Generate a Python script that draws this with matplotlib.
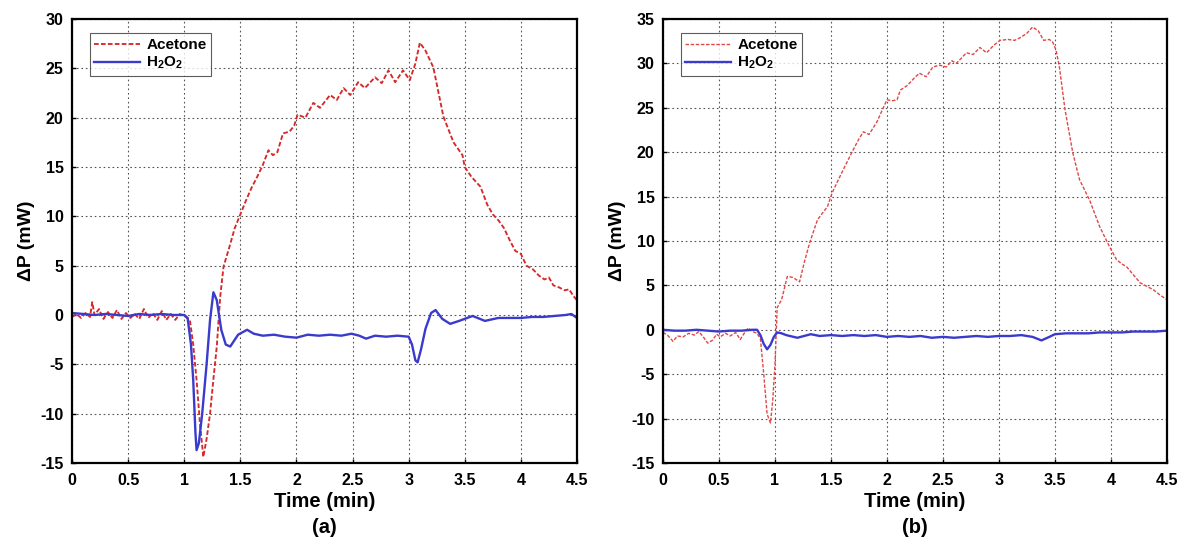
import matplotlib
matplotlib.use("Agg")
import matplotlib.pyplot as plt

plt.rcParams['font.family'] = ['Liberation Sans', 'DejaVu Sans']
plt.rcParams['font.weight'] = 'bold'
plt.rcParams['axes.unicode_minus'] = False
plt.rcParams['mathtext.fontset'] = 'custom'
plt.rcParams['mathtext.rm'] = 'Liberation Sans:bold'
plt.rcParams['mathtext.it'] = 'Liberation Sans:bold'
plt.rcParams['mathtext.bf'] = 'Liberation Sans:bold'

# (a) acetone
t_ace_a = [0, 0.04, 0.08, 0.12, 0.16, 0.18, 0.2, 0.24, 0.28, 0.32, 0.36, 0.4, 0.44, 0.48,
           0.52, 0.56, 0.6, 0.64, 0.68, 0.72, 0.76, 0.8, 0.84, 0.88, 0.92, 0.96, 1.0, 1.05,
           1.08, 1.11, 1.14, 1.17, 1.2, 1.23, 1.26, 1.29, 1.32, 1.35, 1.4, 1.45, 1.5, 1.55, 1.6,
           1.65, 1.7, 1.75, 1.79, 1.83, 1.88, 1.94, 1.98, 2.01, 2.08, 2.15, 2.21, 2.3, 2.36,
           2.42, 2.48, 2.55, 2.61, 2.7, 2.76, 2.82, 2.88, 2.95, 3.01, 3.06, 3.1, 3.15, 3.22,
           3.31, 3.4, 3.48, 3.5, 3.56, 3.64, 3.7, 3.75, 3.8, 3.85, 3.9, 3.95, 4.0, 4.05,
           4.11, 4.16, 4.21, 4.25, 4.29, 4.34, 4.39, 4.43, 4.47, 4.5]
p_ace_a = [-0.2, 0.1, -0.3, 0.2, -0.2, 1.3, 0.0, 0.6, -0.4, 0.3, -0.3, 0.5, -0.4, 0.2,
           -0.3, 0.1, -0.4, 0.6, -0.3, 0.2, -0.5, 0.4, -0.5, 0.1, -0.5, 0.1, -0.1, -0.5,
           -3.0, -6.6, -11.0, -14.4, -12.5, -10.0, -6.5, -3.2, 1.8, 4.9, 6.8, 8.8, 10.2, 11.6, 12.9,
           14.0, 15.2, 16.7, 16.2, 16.5, 18.4, 18.6, 19.2, 20.3, 20.0, 21.5, 21.0, 22.3, 21.8,
           23.0, 22.3, 23.6, 23.0, 24.1, 23.5, 24.8, 23.6, 24.8, 23.8, 25.5, 27.6, 26.8, 25.1,
           20.1, 17.5, 16.2, 15.0, 14.0, 13.0, 11.2, 10.2, 9.6, 8.8, 7.6, 6.5, 6.2, 5.0,
           4.6, 4.0, 3.6, 3.8, 3.0, 2.8, 2.5, 2.6, 1.9, 1.5]

# (a) H2O2
t_h2o2_a = [0, 0.1, 0.2, 0.3, 0.4, 0.5, 0.6, 0.7, 0.8, 0.9, 1.0, 1.03, 1.06, 1.08, 1.1,
            1.11, 1.13, 1.16, 1.2, 1.23, 1.26, 1.29, 1.33, 1.37, 1.41, 1.48, 1.56, 1.62,
            1.7, 1.8, 1.9, 2.0, 2.1, 2.2, 2.3, 2.4, 2.49, 2.56, 2.62, 2.7, 2.8, 2.9, 3.0,
            3.03, 3.06, 3.08, 3.11, 3.15, 3.2, 3.24, 3.3, 3.37, 3.45, 3.57, 3.68, 3.8, 3.9,
            4.0, 4.1, 4.2, 4.3, 4.4, 4.45, 4.5]
p_h2o2_a = [0.2, 0.1, 0.0, 0.1, 0.0, -0.1, 0.1, 0.0, 0.1, 0.0, 0.0, -0.3, -3.0, -6.6, -12.0,
            -13.7, -13.0, -10.0, -4.9, -0.5, 2.3, 1.5, -1.5, -3.0, -3.2, -2.0, -1.5, -1.9,
            -2.1, -2.0, -2.2, -2.3, -2.0, -2.1, -2.0, -2.1, -1.9, -2.1, -2.4, -2.1, -2.2, -2.1, -2.2,
            -3.0, -4.6, -4.8, -3.5, -1.4, 0.2, 0.5, -0.4, -0.9, -0.6, -0.1, -0.6, -0.3, -0.3,
            -0.3, -0.2, -0.2, -0.1, 0.0, 0.1, -0.3]

# (b) acetone
t_ace_b = [0, 0.04, 0.09, 0.13, 0.18, 0.23, 0.28, 0.32, 0.36, 0.4, 0.44, 0.48, 0.51, 0.56,
           0.6, 0.65, 0.69, 0.72, 0.76, 0.8, 0.84, 0.87, 0.9, 0.93, 0.96, 0.98, 1.0, 1.02,
           1.06, 1.11, 1.16, 1.22, 1.26, 1.31, 1.38, 1.47, 1.51, 1.57, 1.64, 1.7,
           1.75, 1.79, 1.84, 1.91, 1.96, 2.0, 2.05, 2.09, 2.12, 2.18, 2.24, 2.29, 2.35, 2.41,
           2.47, 2.53, 2.58, 2.62, 2.71, 2.77, 2.83, 2.89, 2.95, 3.01, 3.08, 3.14, 3.19, 3.25,
           3.3, 3.35, 3.4, 3.45, 3.48, 3.51, 3.54, 3.59, 3.66, 3.72, 3.81, 3.9, 3.99, 4.05,
           4.1, 4.14, 4.2, 4.26, 4.32, 4.38, 4.44, 4.5]
p_ace_b = [-0.3, -0.6, -1.3, -0.7, -0.8, -0.4, -0.6, -0.2, -0.8, -1.5, -1.2, -0.5, -0.8, -0.4,
           -0.7, -0.3, -1.1, -0.5, 0.2, -0.2, -0.4, -1.0, -5.0, -9.5, -10.5, -8.0, -4.0, 2.5,
           3.4, 6.0, 5.9, 5.4, 7.5, 9.8, 12.4, 13.9, 15.4, 17.0, 18.8, 20.3,
           21.5, 22.3, 22.0, 23.4, 24.8, 25.9, 25.8, 25.9, 27.0, 27.5, 28.3, 28.9, 28.5, 29.6,
           29.8, 29.6, 30.3, 30.0, 31.2, 31.0, 31.8, 31.2, 32.0, 32.6, 32.7, 32.6, 32.9, 33.4,
           34.1, 33.7, 32.6, 32.7, 32.4, 31.5, 29.6, 24.8, 19.9, 16.9, 14.6, 11.6, 9.3, 7.9,
           7.4, 7.1, 6.2, 5.3, 4.9, 4.5, 3.9, 3.4]

# (b) H2O2
t_h2o2_b = [0, 0.1, 0.2, 0.3, 0.4, 0.5, 0.6, 0.7, 0.8, 0.84, 0.87, 0.9, 0.93, 0.96, 0.99,
            1.02, 1.06, 1.1, 1.2, 1.32, 1.4, 1.5, 1.6, 1.7, 1.8, 1.9, 2.0, 2.1, 2.2,
            2.3, 2.4, 2.5, 2.6, 2.7, 2.8, 2.9, 3.0, 3.1, 3.2, 3.3, 3.38, 3.45, 3.5, 3.6,
            3.7, 3.8, 3.9, 4.0, 4.1, 4.2, 4.3, 4.4, 4.5]
p_h2o2_b = [0.0, -0.1, -0.1, 0.0, -0.1, -0.2, -0.1, -0.1, 0.0, 0.0, -0.6, -1.6, -2.2, -1.7, -0.8,
            -0.3, -0.4, -0.6, -0.9, -0.5, -0.7, -0.6, -0.7, -0.6, -0.7, -0.6, -0.8, -0.7, -0.8,
            -0.7, -0.9, -0.8, -0.9, -0.8, -0.7, -0.8, -0.7, -0.7, -0.6, -0.8, -1.2, -0.8, -0.5, -0.4,
            -0.4, -0.4, -0.3, -0.3, -0.3, -0.2, -0.2, -0.2, -0.1]

panele = [
    ("(a)", t_ace_a, p_ace_a, t_h2o2_a, p_h2o2_a, (-15, 30), [0.0609, 0.149, 0.4268, 0.816],
     '#d42a2a', 1.35),
    ("(b)", t_ace_b, p_ace_b, t_h2o2_b, p_h2o2_b, (-15, 35), [0.5604, 0.149, 0.4260, 0.816],
     '#e04848', 1.0),
]

fig = plt.figure(figsize=(11.83, 5.44), dpi=100)

for nazwa, t1, p1, t2, p2, ylim, poz, kolor, grubosc in panele:
    ax = fig.add_axes(poz)
    ax.plot(t1, p1, color=kolor, linestyle=(0, (2.5, 1.2)), linewidth=grubosc, label='Acetone')
    ax.plot(t2, p2, color='#3a3acc', linewidth=1.7, label=r'$\mathregular{H_2O_2}$')
    ax.set_xlim(0, 4.5)
    ax.set_ylim(*ylim)
    ax.set_xticks([0, 0.5, 1, 1.5, 2, 2.5, 3, 3.5, 4, 4.5])
    ax.set_xticklabels(['0', '0.5', '1', '1.5', '2', '2.5', '3', '3.5', '4', '4.5'])
    ax.set_yticks(range(ylim[0], ylim[1] + 1, 5))
    ax.tick_params(direction='in', labelsize=11.5, length=3, width=1)
    ax.tick_params(axis='x', pad=7)
    ax.tick_params(axis='y', pad=6)
    ax.grid(True, linestyle=(0, (1.5, 2.5)), color='#555555', linewidth=0.8)
    for s in ax.spines.values():
        s.set_linewidth(1.6)
    ax.set_xlabel("Time (min)\n" + nazwa, fontsize=14.5, fontweight='bold', labelpad=3,
                  linespacing=1.45)
    ax.set_ylabel("ΔP (mW)", fontsize=14, fontweight='bold', labelpad=4)
    leg = ax.legend(loc='upper left', fontsize=11, fancybox=False, edgecolor='#333333',
                    handlelength=3.0, handletextpad=0.4, borderpad=0.3, labelspacing=0.2,
                    bbox_to_anchor=(0.02, 0.985))
    leg.get_frame().set_linewidth(0.8)

plt.savefig("out.png", dpi=100)
